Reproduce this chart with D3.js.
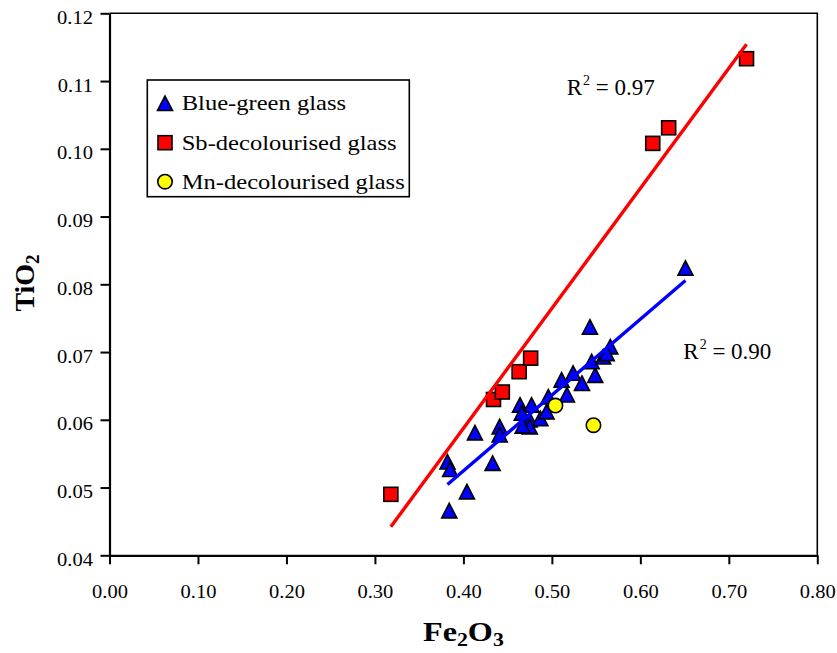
<!DOCTYPE html>
<html>
<head>
<meta charset="utf-8">
<script src="https://cdn.jsdelivr.net/npm/d3@7"></script>
<style>
  html, body { margin: 0; padding: 0; background: #fff; }
  svg { display: block; }
  text { font-family: "Liberation Serif", "Times New Roman", serif; fill: #000; }
</style>
</head>
<body>
<svg id="chart" width="837" height="653"></svg>
<script>
// Fe2O3 (x) and TiO2 (y) concentrations by glass group
const blueGreenFe = [0.384, 0.404, 0.382, 0.385, 0.433, 0.413, 0.441, 0.441, 0.464, 0.477,
                     0.466, 0.475, 0.487, 0.494, 0.475, 0.467, 0.496, 0.511, 0.524, 0.517,
                     0.534, 0.549, 0.545, 0.558, 0.566, 0.562, 0.543, 0.651];
const blueGreenTi = [0.0466, 0.0494, 0.0538, 0.0527, 0.0536, 0.0581, 0.0590, 0.0578, 0.0622, 0.0622,
                     0.0610, 0.0600, 0.0602, 0.0612, 0.0590, 0.0591, 0.0634, 0.0659, 0.0669, 0.0637,
                     0.0654, 0.0666, 0.0686, 0.0693, 0.0708, 0.0698, 0.0737, 0.0824];
const sbFe = [0.318, 0.434, 0.444, 0.463, 0.476, 0.614, 0.632, 0.720];
const sbTi = [0.0490, 0.0630, 0.0641, 0.0671, 0.0691, 0.1008, 0.1031, 0.1133];
const mnFe = [0.504, 0.547];
const mnTi = [0.0621, 0.0592];

const seriesNames = ["Blue-green glass", "Sb-decolourised glass", "Mn-decolourised glass"];
const r2Labels = ["0.90", "0.97"];
const xTicks = [0.00, 0.10, 0.20, 0.30, 0.40, 0.50, 0.60, 0.70, 0.80];
const yTicks = [0.04, 0.05, 0.06, 0.07, 0.08, 0.09, 0.10, 0.11, 0.12];

const svg = d3.select("#chart");
const plot = { left: 109.5, right: 817.3, top: 13.3, bottom: 555.3 };

const x = d3.scaleLinear().domain([0, 0.8]).range([plot.left, plot.right]);
const y = d3.scaleLinear().domain([0.04, 0.12]).range([plot.bottom, plot.top]);

// plot frame (top and right edges)
svg.append("path")
  .attr("d", `M${plot.left},${plot.top}H${plot.right}V${plot.bottom}`)
  .attr("fill", "none").attr("stroke", "#000").attr("stroke-width", 1.6);

// axes
const fmt = d3.format(".2f");
const yAxis = svg.append("g")
  .attr("transform", `translate(${plot.left},0)`)
  .call(d3.axisLeft(y).tickValues(yTicks).tickSize(9).tickSizeOuter(0).tickFormat(fmt).tickPadding(0));
const xAxis = svg.append("g")
  .attr("transform", `translate(0,${plot.bottom})`)
  .call(d3.axisBottom(x).tickValues(xTicks).tickSize(9).tickSizeOuter(0).tickFormat(fmt).tickPadding(0));

[yAxis, xAxis].forEach(g => {
  g.select(".domain").attr("stroke", "#000").attr("stroke-width", 2.2);
  g.selectAll(".tick line").attr("stroke", "#000").attr("stroke-width", 2);
  g.selectAll(".tick text")
    .attr("font-family", "Liberation Serif, serif")
    .attr("font-size", 19).attr("fill", "#000")
    .attr("dy", null).attr("x", 0).attr("y", 0);
});
yAxis.selectAll(".tick text")
  .attr("text-anchor", "end")
  .attr("transform", "translate(-16.5,10) scale(1.08,1)");
xAxis.selectAll(".tick text")
  .attr("text-anchor", "middle")
  .attr("transform", "translate(0,42.7) scale(1.08,1)");

// marker shapes
const markerStroke = 1.6;
function triPath(cx, cy, w, h) {
  return `M${cx},${cy - h / 2}L${cx + w / 2},${cy + h / 2}L${cx - w / 2},${cy + h / 2}Z`;
}
function drawTri(g, cx, cy) {
  g.append("path").attr("d", triPath(cx, cy, 15, 14.5))
    .attr("fill", "#0000FF").attr("stroke", "#000").attr("stroke-width", markerStroke)
    .attr("stroke-linejoin", "miter");
}
function drawSq(g, cx, cy) {
  g.append("rect").attr("x", cx - 7).attr("y", cy - 7).attr("width", 14).attr("height", 14)
    .attr("fill", "#FF0000").attr("stroke", "#000").attr("stroke-width", markerStroke);
}
function drawCirc(g, cx, cy) {
  g.append("circle").attr("cx", cx).attr("cy", cy).attr("r", 7.2)
    .attr("fill", "#FFFF00").attr("stroke", "#000").attr("stroke-width", markerStroke);
}

const marks = svg.append("g");
blueGreenFe.forEach((v, i) => drawTri(marks, x(v), y(blueGreenTi[i])));
sbFe.forEach((v, i) => drawSq(marks, x(v), y(sbTi[i])));
mnFe.forEach((v, i) => drawCirc(marks, x(v), y(mnTi[i])));

// least-squares linear trendlines spanning each series' Fe2O3 range
function fit(xs, ys) {
  const mx = d3.mean(xs), my = d3.mean(ys);
  let sxy = 0, sxx = 0;
  xs.forEach((v, i) => { sxy += (v - mx) * (ys[i] - my); sxx += (v - mx) * (v - mx); });
  const b = sxy / sxx, a = my - b * mx;
  const [x0, x1] = d3.extent(xs);
  return [[x0, a + b * x0], [x1, a + b * x1]];
}
const line = d3.line().x(d => x(d[0])).y(d => y(d[1]));
svg.append("path").datum(fit(blueGreenFe, blueGreenTi))
  .attr("d", line).attr("fill", "none").attr("stroke", "#0000FF").attr("stroke-width", 3.4);
svg.append("path").datum(fit(sbFe, sbTi))
  .attr("d", line).attr("fill", "none").attr("stroke", "#FF0000").attr("stroke-width", 3.4);

// R² annotations
function r2(px, py, val) {
  const t = svg.append("text").attr("x", px).attr("y", py).attr("font-size", 23);
  t.append("tspan").text("R");
  t.append("tspan").attr("font-size", 14).attr("dx", 1).attr("dy", -10).text("2");
  t.append("tspan").attr("dy", 10).text(" = " + val);
}
r2(566.7, 95, r2Labels[1]);
r2(683.3, 359, r2Labels[0]);

// legend
const legend = svg.append("g");
legend.append("rect").attr("x", 147.3).attr("y", 80).attr("width", 262).attr("height", 116.7)
  .attr("fill", "#fff").attr("stroke", "#000").attr("stroke-width", 1.6);
const rows = [103.3, 142.7, 181.7];
drawTri(legend, 165, rows[0]);
drawSq(legend, 165, rows[1]);
drawCirc(legend, 165, rows[2]);
seriesNames.forEach((name, i) => {
  legend.append("text")
    .attr("transform", `translate(181.7,${rows[i] + 7}) scale(1.17,1)`)
    .attr("font-size", 21).text(name);
});

// axis titles
const xt = svg.append("text")
  .attr("transform", `translate(${(plot.left + plot.right) / 2},640.7) scale(1.15,1)`)
  .attr("text-anchor", "middle").attr("font-size", 28).attr("font-weight", "bold");
xt.append("tspan").text("Fe");
xt.append("tspan").attr("font-size", 19).attr("dy", 5).text("2");
xt.append("tspan").attr("dy", -5).text("O");
xt.append("tspan").attr("font-size", 19).attr("dy", 5).text("3");

const yt = svg.append("text")
  .attr("transform", "translate(34,283) rotate(-90)")
  .attr("text-anchor", "middle").attr("font-size", 28).attr("font-weight", "bold");
yt.append("tspan").text("TiO");
yt.append("tspan").attr("font-size", 19).attr("dy", 5).text("2");
</script>
</body>
</html>
